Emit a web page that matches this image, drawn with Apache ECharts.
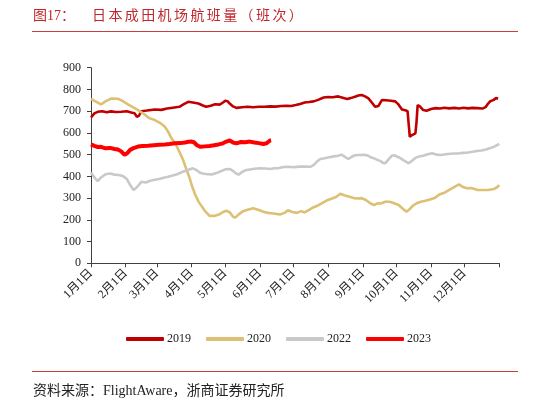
<!DOCTYPE html>
<html>
<head>
<meta charset="utf-8">
<script src="https://cdn.jsdelivr.net/npm/echarts@6/dist/echarts.min.js"></script>
<style>
html,body{margin:0;padding:0;background:#fff;}
#chart{width:548px;height:404px;}
</style>
</head>
<body>
<div id="chart"></div>
<script>
// ---- tick labels / categories ----
const monthLabels = ['1月1日','2月1日','3月1日','4月1日','5月1日','6月1日','7月1日','8月1日','9月1日','10月1日','11月1日','12月1日'];
const monthStarts = [0,31,59,90,120,151,181,212,243,273,304,334];
const yearEnd = 365;
const seriesNames = ['2019','2020','2022','2023'];

// ---- series values: [day of year, flights] ----
const data2019 = [[0,671],[3,690],[6,697],[10,700],[14,695],[18,699],[22,696],[27,697],[32,700],[36,694],[39,690],[41,674],[43,680],[45,700],[50,703],[57,708],[63,706],[68,712],[73,716],[79,720],[83,732],[87,743],[91,740],[96,735],[100,726],[103,720],[107,725],[111,732],[115,730],[118,740],[120,748],[122,746],[124,735],[127,722],[130,715],[135,718],[140,720],[145,718],[150,720],[155,720],[160,722],[165,721],[170,724],[175,725],[179,724],[183,728],[187,733],[191,740],[195,742],[199,745],[203,752],[208,763],[212,765],[216,764],[221,768],[225,762],[229,756],[232,760],[236,766],[239,772],[242,774],[245,768],[248,759],[251,740],[254,720],[257,724],[260,751],[264,750],[268,748],[272,745],[275,730],[278,708],[281,704],[283,700],[284,640],[285,582],[287,590],[290,598],[291,650],[292,728],[294,722],[297,705],[300,702],[304,710],[308,714],[312,712],[316,716],[320,713],[325,715],[329,712],[333,716],[337,713],[341,715],[345,714],[350,712],[353,720],[355,735],[357,746],[360,752],[362,760],[364,758]];
const data2020 = [[0,756],[4,745],[9,731],[13,745],[18,758],[24,757],[28,748],[33,731],[37,720],[42,705],[47,688],[52,668],[57,659],[62,645],[66,628],[69,605],[72,575],[76,545],[79,513],[82,480],[85,437],[88,395],[90,360],[93,318],[96,285],[99,262],[102,240],[106,218],[110,218],[115,226],[118,236],[121,242],[124,235],[127,214],[129,210],[132,225],[136,240],[140,246],[145,253],[150,245],[154,237],[158,232],[163,229],[169,225],[173,232],[176,244],[180,236],[184,232],[188,240],[191,234],[195,246],[199,258],[203,266],[207,278],[211,290],[215,297],[219,305],[223,320],[227,312],[231,306],[235,300],[239,298],[242,300],[246,290],[250,275],[253,268],[256,276],[259,275],[263,283],[267,283],[271,276],[275,268],[279,250],[282,237],[285,250],[288,266],[291,276],[295,283],[299,288],[303,294],[307,300],[312,318],[316,325],[321,340],[325,352],[329,363],[332,352],[336,345],[340,346],[345,338],[350,337],[355,337],[360,342],[363,350],[365,360]];
const data2022 = [[0,418],[3,395],[6,378],[9,395],[13,410],[17,413],[21,408],[25,406],[29,400],[32,388],[35,360],[38,337],[41,350],[45,375],[49,372],[53,380],[57,384],[61,388],[65,394],[69,398],[73,404],[77,410],[82,421],[86,428],[91,437],[94,430],[97,418],[100,413],[104,410],[108,409],[112,415],[115,421],[120,432],[124,434],[127,425],[130,412],[132,408],[135,420],[138,428],[142,432],[146,435],[151,437],[156,436],[160,434],[164,437],[168,438],[172,443],[176,444],[181,442],[186,445],[191,445],[196,444],[199,452],[202,468],[205,480],[209,483],[213,488],[217,492],[221,495],[224,500],[227,490],[230,480],[233,490],[236,497],[240,498],[244,499],[247,497],[250,488],[253,483],[256,476],[259,470],[261,462],[263,460],[266,478],[269,495],[271,497],[274,490],[277,483],[280,472],[284,460],[287,472],[290,485],[293,491],[297,495],[301,502],[305,506],[309,500],[313,498],[317,502],[321,504],[325,505],[329,506],[333,508],[337,510],[341,513],[345,517],[349,519],[353,524],[357,530],[361,538],[365,550]];
const data2023 = [[0,547],[3,540],[6,535],[9,536],[13,529],[17,531],[21,526],[24,524],[27,515],[30,499],[32,505],[35,522],[38,530],[42,537],[46,540],[51,541],[56,543],[61,545],[66,547],[70,549],[75,552],[80,553],[84,556],[87,559],[90,560],[92,557],[95,542],[98,536],[102,538],[106,540],[110,543],[114,547],[118,552],[121,560],[124,565],[127,556],[130,552],[134,558],[138,557],[142,560],[146,556],[150,553],[154,549],[157,552],[160,565],[161,566]];

const yTicks = {min:0, max:900, interval:100};
const titleHead = '图17：';
const titleBody = '日本成田机场航班量（班次）';
const sourceText = '资料来源：FlightAware，浙商证券研究所';

// ---- build category axis (one slot per day) ----
const categories = [];
for (let i = 0; i <= yearEnd; i++) {
  const k = monthStarts.indexOf(i);
  categories.push(k >= 0 ? monthLabels[k] : '');
}

const serif = '"Times New Roman","Liberation Serif","Noto Sans CJK SC",serif';
const titleColor = '#C0272D';

const graphics = [
  {type:'text', left:33, top:9, style:{text:titleHead, font:'14px ' + serif, fill:titleColor}},
  {type:'line', shape:{x1:32, y1:31.5, x2:518, y2:31.5}, style:{stroke:'#C8403F', lineWidth:1}},
  {type:'line', shape:{x1:32, y1:371.5, x2:518, y2:371.5}, style:{stroke:'#C8403F', lineWidth:1}},
  {type:'text', left:33, top:384, style:{text:sourceText, font:'14px ' + serif, fill:'#222'}}
];
titleBody.split('').forEach((ch, i) => {
  graphics.push({type:'text', left:92 + i * 16.4, top:9, style:{text:ch, font:'14px ' + serif, fill:titleColor}});
});

const colors = ['#C00000','#DCC073','#C9C9C9','#FF0000'];
const widths = [2.6, 2.6, 2.6, 4];
const allData = [data2019, data2020, data2022, data2023];

const chart = echarts.init(document.getElementById('chart'), null, {renderer:'canvas'});
chart.setOption({
  animation:false,
  backgroundColor:'#fff',
  graphic:graphics,
  grid:{left:91, right:48.7, top:67.7, bottom:140.7, containLabel:false, outerBoundsMode:'none'},
  legend:{
    left:126, top:333, padding:0, itemWidth:38, itemHeight:4, itemGap:15,
    icon:'roundRect',
    textStyle:{fontFamily:serif, fontSize:12, color:'#222', padding:[0,0,0,-2]},
    data:seriesNames
  },
  xAxis:{
    type:'category', data:categories, boundaryGap:false,
    axisLine:{lineStyle:{color:'#404040', width:1}},
    axisTick:{show:true, length:4, lineStyle:{color:'#404040'},
      interval:(i) => monthStarts.includes(i) || i === yearEnd},
    axisLabel:{rotate:45, margin:8, fontFamily:serif, fontSize:12, color:'#222',
      interval:(i) => monthStarts.includes(i)},
    splitLine:{show:false}
  },
  yAxis:{
    type:'value', min:yTicks.min, max:yTicks.max, interval:yTicks.interval,
    axisLine:{show:true, lineStyle:{color:'#404040', width:1}},
    axisTick:{show:true, length:4, lineStyle:{color:'#404040'}},
    axisLabel:{margin:10, fontFamily:serif, fontSize:12, color:'#222'},
    splitLine:{show:false}
  },
  series:seriesNames.map((n, k) => ({
    name:n, type:'line', data:allData[k], symbol:'none', smooth:false,
    color:colors[k],
    lineStyle:{color:colors[k], width:widths[k]}
  }))
});
</script>
</body>
</html>
